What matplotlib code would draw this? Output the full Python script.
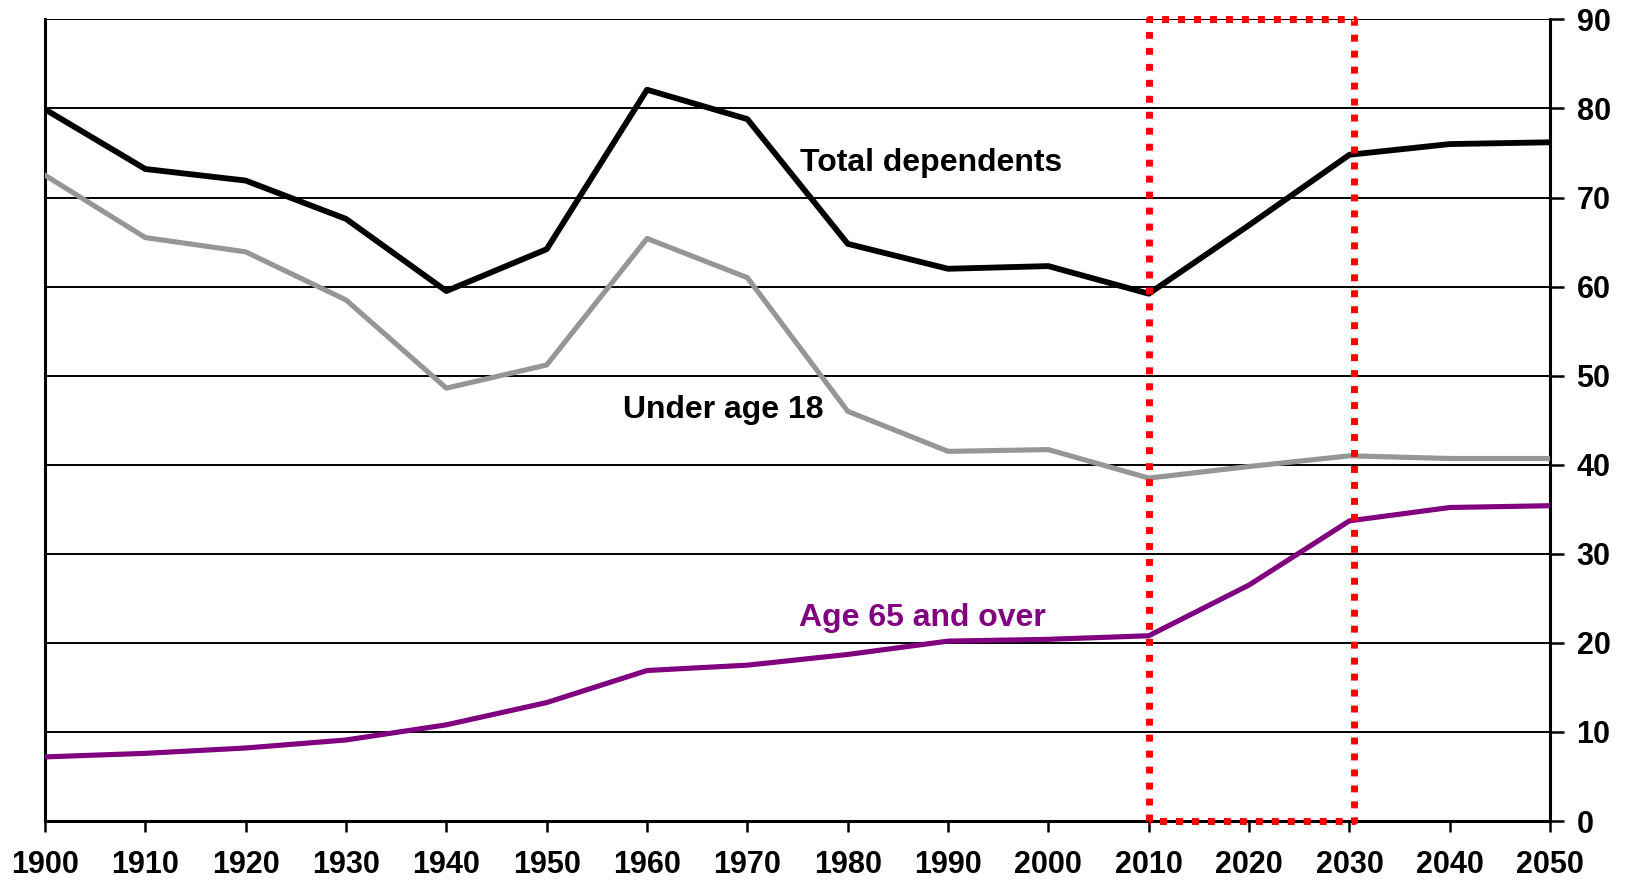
import matplotlib
matplotlib.use('Agg')
import matplotlib.pyplot as plt

plt.rcParams['font.family'] = ['Liberation Sans', 'DejaVu Sans']
plt.rcParams['font.weight'] = 'bold'

years = [1900, 1910, 1920, 1930, 1940, 1950, 1960, 1970,
         1980, 1990, 2000, 2010, 2020, 2030, 2040, 2050]
total = [79.9, 73.2, 71.9, 67.6, 59.5, 64.2, 82.1, 78.8,
         64.8, 62.0, 62.3, 59.2, 66.9, 74.8, 76.0, 76.2]
under18 = [72.5, 65.5, 63.9, 58.5, 48.6, 51.2, 65.4, 61.0,
           46.0, 41.5, 41.7, 38.5, 39.8, 41.0, 40.7, 40.7]
over65 = [7.2, 7.6, 8.2, 9.1, 10.8, 13.3, 16.9, 17.5,
          18.7, 20.2, 20.4, 20.8, 26.5, 33.7, 35.2, 35.4]
box_years = [2010, 2030.5]

fig = plt.figure(figsize=(16.3, 8.8), dpi=100)
ax = fig.add_axes([0.0276, 0.067, 0.9234, 0.911])

for y in range(10, 100, 10):
    ax.axhline(y, color='black', lw=1.4, zorder=1)

ax.plot(years, under18, color='#969696', lw=3.7, zorder=3)
ax.plot(years, total, color='black', lw=4.2, zorder=4)
ax.plot(years, over65, color='#800080', lw=3.7, zorder=3)

# red dotted box
bx = [box_years[0], box_years[0], box_years[1], box_years[1], box_years[0]]
by = [0, 90, 90, 0, 0]
ax.plot(bx, by, color='red', lw=5, linestyle=(0, (1, 1.3)), zorder=5,
        clip_on=False)

ax.text(1988.3, 73.9, 'Total dependents', fontsize=23, fontweight='bold',
        ha='center', va='center', color='black')
ax.text(1967.6, 46.2, 'Under age 18', fontsize=23, fontweight='bold',
        ha='center', va='center', color='black')
ax.text(1987.4, 22.8, 'Age 65 and over', fontsize=23, fontweight='bold',
        ha='center', va='center', color='#800080')

ax.set_xlim(1900, 2050)
ax.set_ylim(0, 90)
ax.set_xticks(years)
ax.set_xticklabels([str(y) for y in years])
ax.set_yticks(range(0, 100, 10))
ax.yaxis.tick_right()
ax.tick_params(axis='y', direction='out', length=10, width=1.8, pad=9,
               labelsize=22)
ax.tick_params(axis='x', direction='out', length=8, width=1.8, pad=13,
               labelsize=22)
for lab in ax.get_xticklabels() + ax.get_yticklabels():
    lab.set_fontweight('bold')

ax.spines['top'].set_visible(False)
for s in ['left', 'right', 'bottom']:
    ax.spines[s].set_linewidth(2.2)

fig.savefig('out.png', dpi=100)
